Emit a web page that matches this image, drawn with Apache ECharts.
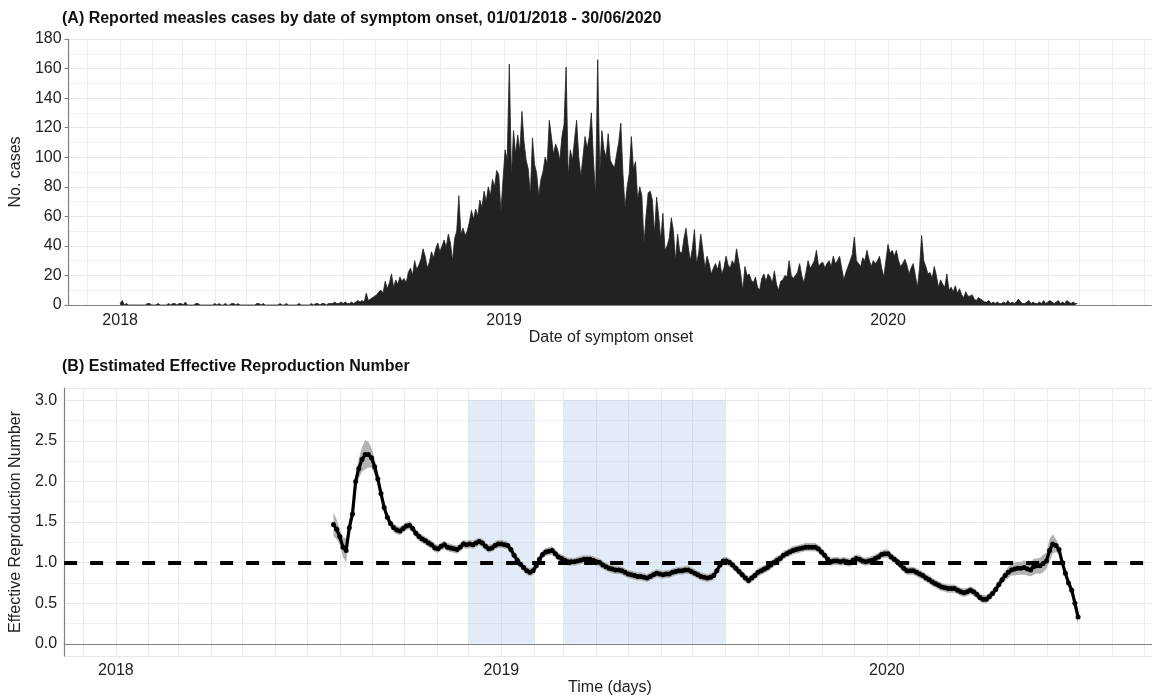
<!DOCTYPE html>
<html>
<head>
<meta charset="utf-8">
<title>Measles cases and effective reproduction number</title>
<script src="https://cdn.jsdelivr.net/npm/echarts@6/dist/echarts.min.js"></script>
<style>
  html, body { margin: 0; padding: 0; background: #fff; }
  #chart { width: 1152px; height: 696px; }
</style>
</head>
<body>
<div id="chart"></div>
<script>
// (A) reported cases, one value every 2nd day from 01/01/2018 to 29/06/2020
var caseStart = [2018, 0, 1];
var caseStepDays = 2;
var caseCounts = [
  1,3,0,1,0,0,0,0,0,0,
  0,0,0,1,1,0,0,0,1,0,
  0,0,0,1,0,1,1,0,1,1,
  0,2,0,0,0,0,1,1,0,0,
  0,0,0,0,0,1,0,1,0,0,
  1,0,0,1,1,0,1,0,0,0,
  0,0,0,0,0,1,1,0,1,0,
  0,0,0,0,0,0,1,0,0,1,
  0,0,0,0,0,1,0,0,0,0,
  0,1,0,1,1,0,1,1,0,1,
  1,1,2,1,1,2,1,2,1,1,
  2,1,2,3,2,3,2,8,3,4,
  5,6,7,9,10,8,16,11,15,21,
  12,17,14,19,16,18,15,22,25,20,
  30,24,27,31,38,33,25,29,36,32,
  38,42,36,40,44,39,48,42,30,45,
  50,74,48,52,47,50,56,64,58,65,
  60,71,66,77,70,80,74,85,80,91,
  88,63,85,105,98,163,87,118,102,115,
  104,131,110,98,92,74,113,95,89,74,
  85,90,100,96,125,114,102,109,105,98,
  114,122,161,87,105,98,112,125,100,87,
  100,114,106,114,130,98,74,166,89,118,
  105,100,116,98,95,93,102,110,123,89,
  66,80,89,114,92,97,71,80,74,42,
  60,76,77,71,48,73,60,44,62,37,
  40,45,59,50,30,48,36,35,45,52,
  40,30,38,51,28,35,48,37,25,33,
  28,21,25,28,24,30,21,25,33,27,
  25,30,27,38,30,21,10,26,20,21,
  17,15,19,12,10,18,21,16,21,19,
  15,23,14,10,16,17,20,19,30,20,
  18,20,22,28,20,15,22,30,25,27,
  30,37,26,28,29,25,28,30,26,33,
  28,30,33,25,17,22,26,30,34,46,
  30,28,26,32,30,37,31,26,30,28,
  30,33,25,19,30,41,35,37,33,37,
  30,26,28,31,27,21,25,28,20,12,
  25,47,30,26,21,22,18,26,20,12,
  17,14,12,21,10,12,9,13,8,11,
  7,5,9,6,6,7,4,3,5,4,
  3,2,2,3,1,2,1,2,1,1,
  2,1,3,1,2,1,2,4,2,1,
  1,2,3,1,2,1,1,2,1,3,
  1,2,3,2,1,2,3,1,2,1,
  3,2,1,2,1,1
];

// (B) effective reproduction number, one value every 3rd day from 26/07/2018
var rtStart = [2018, 6, 26];
var rtStepDays = 3;
var rtMean = [
  1.47,1.41,1.32,1.19,1.15,1.43,1.60,2.00,2.16,2.27,
  2.33,2.33,2.29,2.18,2.03,1.85,1.68,1.56,1.48,1.43,
  1.40,1.39,1.42,1.45,1.46,1.42,1.36,1.32,1.29,1.27,
  1.24,1.22,1.18,1.17,1.20,1.22,1.19,1.18,1.17,1.16,
  1.19,1.23,1.22,1.23,1.22,1.24,1.26,1.24,1.20,1.17,
  1.18,1.21,1.23,1.23,1.22,1.21,1.16,1.09,1.03,0.98,
  0.94,0.90,0.88,0.90,0.96,1.04,1.10,1.13,1.14,1.15,
  1.11,1.07,1.05,1.03,1.01,1.01,1.01,1.02,1.03,1.04,
  1.04,1.04,1.03,1.01,1.00,0.97,0.95,0.93,0.92,0.91,
  0.91,0.90,0.88,0.86,0.85,0.84,0.83,0.83,0.82,0.81,
  0.83,0.85,0.87,0.86,0.85,0.86,0.86,0.88,0.89,0.90,
  0.90,0.91,0.91,0.89,0.87,0.85,0.83,0.82,0.81,0.82,
  0.84,0.90,0.97,1.02,1.02,1.00,0.97,0.93,0.89,0.85,
  0.81,0.78,0.81,0.84,0.88,0.90,0.92,0.94,0.97,1.00,
  1.03,1.05,1.09,1.11,1.13,1.15,1.16,1.17,1.18,1.19,
  1.19,1.19,1.19,1.17,1.13,1.09,1.04,1.01,1.02,1.02,
  1.01,1.02,1.01,1.00,1.03,1.05,1.04,1.02,1.01,1.02,
  1.03,1.05,1.07,1.10,1.11,1.11,1.07,1.04,1.01,0.97,
  0.93,0.90,0.90,0.90,0.88,0.86,0.84,0.81,0.79,0.76,
  0.74,0.72,0.70,0.69,0.68,0.68,0.68,0.66,0.64,0.63,
  0.64,0.66,0.64,0.61,0.57,0.55,0.55,0.58,0.62,0.67,
  0.73,0.79,0.84,0.88,0.91,0.92,0.93,0.93,0.94,0.92,
  0.91,0.95,0.96,0.96,0.99,1.02,1.15,1.23,1.21,1.16,
  1.00,0.87,0.75,0.66,0.50,0.33
];
// half width of the grey credible band around rtMean
var rtCiHalf = [
  0.15,0.12,0.10,0.12,0.15,0.10,0.08,0.10,0.12,0.15,
  0.18,0.16,0.12,0.10,0.08,0.07,0.06,0.06,0.05,0.05,
  0.05,0.05,0.05,0.05,0.05,0.05,0.05,0.05,0.05,0.05,
  0.05,0.05,0.05,0.05,0.05,0.05,0.05,0.05,0.05,0.05,
  0.05,0.05,0.05,0.05,0.05,0.05,0.05,0.05,0.05,0.05,
  0.05,0.05,0.05,0.05,0.05,0.05,0.05,0.05,0.05,0.05,
  0.05,0.05,0.05,0.05,0.05,0.05,0.05,0.05,0.05,0.05,
  0.05,0.05,0.05,0.05,0.05,0.05,0.05,0.05,0.05,0.05,
  0.05,0.05,0.05,0.05,0.05,0.05,0.05,0.05,0.05,0.05,
  0.05,0.05,0.05,0.05,0.05,0.05,0.05,0.05,0.05,0.05,
  0.05,0.05,0.05,0.05,0.05,0.05,0.05,0.05,0.05,0.05,
  0.05,0.05,0.05,0.05,0.05,0.05,0.05,0.05,0.05,0.05,
  0.05,0.05,0.05,0.05,0.05,0.05,0.05,0.05,0.05,0.05,
  0.05,0.05,0.05,0.05,0.05,0.05,0.05,0.05,0.05,0.05,
  0.05,0.05,0.05,0.05,0.05,0.05,0.05,0.05,0.05,0.05,
  0.05,0.05,0.05,0.05,0.05,0.05,0.05,0.05,0.05,0.05,
  0.05,0.05,0.05,0.05,0.05,0.05,0.05,0.05,0.05,0.05,
  0.05,0.05,0.05,0.05,0.05,0.05,0.05,0.05,0.05,0.05,
  0.05,0.05,0.05,0.05,0.05,0.05,0.05,0.05,0.05,0.05,
  0.05,0.05,0.05,0.05,0.05,0.05,0.05,0.05,0.05,0.05,
  0.05,0.05,0.05,0.05,0.05,0.05,0.05,0.05,0.05,0.05,
  0.05,0.05,0.06,0.07,0.07,0.08,0.08,0.08,0.09,0.08,
  0.08,0.10,0.09,0.10,0.11,0.10,0.14,0.12,0.08,0.06,
  0.05,0.05,0.05,0.06,0.07,0.10
];

// blue shaded periods in panel B
var shadeStarts = ['2018-12-01', '2019-03-01'];
var shadeEnds = ['2019-02-01', '2019-08-01'];
var rtThreshold = 1;

var xAxisMin = '2017-11-13';
var xAxisMax = '2020-09-08';

var FONT = '"Liberation Sans", Arial, sans-serif';
var DAY = 86400000;

function dayStamp(start, offsetDays) {
  return new Date(start[0], start[1], start[2] + offsetDays).getTime();
}
function parseDay(s) {
  var p = s.split('-');
  return new Date(+p[0], +p[1] - 1, +p[2]).getTime();
}
function yearOnly(value) {
  var d = new Date(value);
  return (d.getMonth() === 0 && d.getDate() === 1) ? String(d.getFullYear()) : '';
}

var caseData = caseCounts.map(function (v, i) {
  return [dayStamp(caseStart, i * caseStepDays), v];
});
var rtData = rtMean.map(function (v, i) {
  return [dayStamp(rtStart, i * rtStepDays), v];
});
var rtLowData = rtMean.map(function (v, i) {
  return [dayStamp(rtStart, i * rtStepDays), +(v - rtCiHalf[i]).toFixed(3)];
});
var rtBandData = rtCiHalf.map(function (h, i) {
  return [dayStamp(rtStart, i * rtStepDays), +(2 * h).toFixed(3)];
});
var shadeAreas = shadeStarts.map(function (s, i) {
  return [{xAxis: parseDay(s), yAxis: 0}, {xAxis: parseDay(shadeEnds[i]), yAxis: 3}];
});

function timeAxis(gridIndex, labelMargin) {
  return {
    type: 'time',
    gridIndex: gridIndex,
    min: parseDay(xAxisMin),
    max: parseDay(xAxisMax),
    splitNumber: 34,
    minInterval: 28 * DAY,
    maxInterval: 31 * DAY,
    axisLine: {show: true, lineStyle: {color: '#808080', width: 1.2}},
    axisTick: {show: false},
    axisLabel: {
      interval: 0, hideOverlap: false, margin: labelMargin,
      fontSize: 16, color: '#222', fontFamily: FONT, formatter: yearOnly
    },
    splitLine: {show: true, interval: 0, lineStyle: {color: '#ebebeb', width: 1}}
  };
}

var chart = echarts.init(document.getElementById('chart'));
var option = {
  animation: false,
  backgroundColor: '#fff',
  title: [
    {text: '(A) Reported measles cases by date of symptom onset, 01/01/2018 - 30/06/2020',
      left: 62, top: 11, padding: 0,
      textStyle: {fontSize: 16, fontWeight: 'bold', color: '#111', fontFamily: FONT}},
    {text: '(B) Estimated Effective Reproduction Number',
      left: 62, top: 359, padding: 0,
      textStyle: {fontSize: 16, fontWeight: 'bold', color: '#111', fontFamily: FONT}},
    {text: 'Date of symptom onset', left: 611, textAlign: 'center', top: 330, padding: 0,
      textStyle: {fontSize: 16, fontWeight: 'normal', color: '#222', fontFamily: FONT}},
    {text: 'Time (days)', left: 610, textAlign: 'center', top: 680, padding: 0,
      textStyle: {fontSize: 16, fontWeight: 'normal', color: '#222', fontFamily: FONT}}
  ],
  grid: [
    {left: 62, right: 0, top: 39, height: 266},
    {left: 59, right: 0, top: 388, height: 268}
  ],
  xAxis: [timeAxis(0, 8), timeAxis(1, 7)],
  yAxis: [
    {
      type: 'value', gridIndex: 0, min: 0, max: 180, interval: 20,
      name: 'No. cases', nameLocation: 'middle', nameGap: 38,
      nameTextStyle: {fontSize: 16, color: '#222', fontFamily: FONT},
      axisLine: {show: true, lineStyle: {color: '#808080', width: 1.2}},
      axisTick: {show: true, length: 4, lineStyle: {color: '#808080'}},
      axisLabel: {margin: 7, fontSize: 16, color: '#222', fontFamily: FONT},
      splitLine: {lineStyle: {color: '#e8e8e8'}},
      minorTick: {show: false, splitNumber: 2},
      minorSplitLine: {show: true, lineStyle: {color: '#f0f0f0'}}
    },
    {
      type: 'value', gridIndex: 1, min: -0.15, max: 3.15, splitNumber: 6,
      name: 'Effective Reproduction Number', nameLocation: 'middle', nameGap: 35,
      nameTextStyle: {fontSize: 16, color: '#222', fontFamily: FONT},
      axisLine: {show: true, lineStyle: {color: '#808080', width: 1.2}},
      axisTick: {show: false},
      axisLabel: {
        margin: 7, fontSize: 16, color: '#222', fontFamily: FONT,
        formatter: function (v) {
          return Math.abs(v * 2 - Math.round(v * 2)) < 1e-6 ? v.toFixed(1) : '';
        }
      },
      splitLine: {lineStyle: {color: '#e8e8e8'}},
      minorTick: {show: false, splitNumber: 2},
      minorSplitLine: {show: true, lineStyle: {color: '#f0f0f0'}}
    }
  ],
  series: [
    {
      name: 'cases', type: 'line', xAxisIndex: 0, yAxisIndex: 0,
      data: caseData, showSymbol: false, sampling: false,
      lineStyle: {color: '#222', width: 0.8},
      areaStyle: {color: '#222', opacity: 1}
    },
    {
      name: 'shade', type: 'line', xAxisIndex: 1, yAxisIndex: 1, data: [], z: 1,
      markArea: {silent: true, itemStyle: {color: 'rgba(160,190,230,0.3)'}, data: shadeAreas}
    },
    {
      name: 'ciLow', type: 'line', xAxisIndex: 1, yAxisIndex: 1, stack: 'ci', z: 2,
      data: rtLowData, showSymbol: false, lineStyle: {opacity: 0}
    },
    {
      name: 'ciBand', type: 'line', xAxisIndex: 1, yAxisIndex: 1, stack: 'ci', z: 2,
      data: rtBandData, showSymbol: false, lineStyle: {opacity: 0},
      areaStyle: {color: '#b3b3b3', opacity: 1}
    },
    {
      name: 'Rt', type: 'line', xAxisIndex: 1, yAxisIndex: 1, z: 3,
      data: rtData, symbol: 'circle', symbolSize: 5, showAllSymbol: true,
      itemStyle: {color: '#000'}, lineStyle: {color: '#000', width: 3.2}
    },
    {
      name: 'threshold', type: 'line', xAxisIndex: 1, yAxisIndex: 1, data: [], z: 4,
      markLine: {
        silent: true, symbol: ['none', 'none'], label: {show: false},
        lineStyle: {color: '#000', width: 4, type: [13, 13]},
        data: [{yAxis: rtThreshold}]
      }
    }
  ]
};
chart.setOption(option);
</script>
</body>
</html>
